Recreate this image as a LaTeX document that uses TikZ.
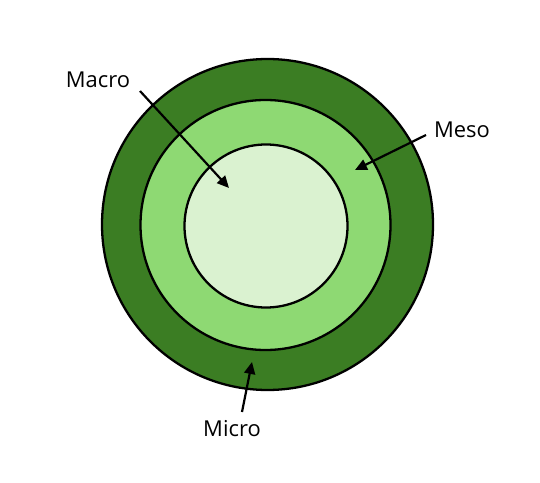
\documentclass[tikz,border=0pt]{standalone}
\usepackage{fontspec}
\setmainfont{Open Sans}
\usetikzlibrary{arrows.meta}
\definecolor{outerg}{HTML}{3B7D23}
\definecolor{midg}{HTML}{8ED973}
\definecolor{innerg}{HTML}{DAF2D0}
\tikzset{
  ring/.style={draw=black, line width=2.3pt},
  lbl/.style={font=\fontsize{22}{26}\selectfont, text=black, inner sep=0pt},
  pointer/.style={line width=2.2pt, -{Triangle[length=12pt,width=11pt]}}
}
\begin{document}
\begin{tikzpicture}[x=1bp,y=-1bp]
\useasboundingbox (0,0) rectangle (540,483);
\fill[white] (0,0) rectangle (540,483);
\node[ring, circle, fill=outerg, minimum size=331bp, inner sep=0pt] (outer) at (267.5,224.5) {};
\node[ring, circle, fill=midg, minimum size=250bp, inner sep=0pt] (mid) at (265.5,225) {};
\node[ring, circle, fill=innerg, minimum size=163bp, inner sep=0pt] (inner) at (266,226) {};
\node[lbl] (macro) at (98,80) {Macro};
\node[lbl] (meso) at (462,130) {Meso};
\node[lbl] (micro) at (232,429) {Micro};
\coordinate (macroS) at (140,91);
\coordinate (macroE) at (229,188);
\coordinate (mesoS) at (426,135);
\coordinate (mesoE) at (355,170);
\coordinate (microS) at (242,412);
\coordinate (microE) at (252,362);
\draw[pointer] (macroS) -- (macroE);
\draw[pointer] (mesoS) -- (mesoE);
\draw[pointer] (microS) -- (microE);
\end{tikzpicture}
\end{document}
